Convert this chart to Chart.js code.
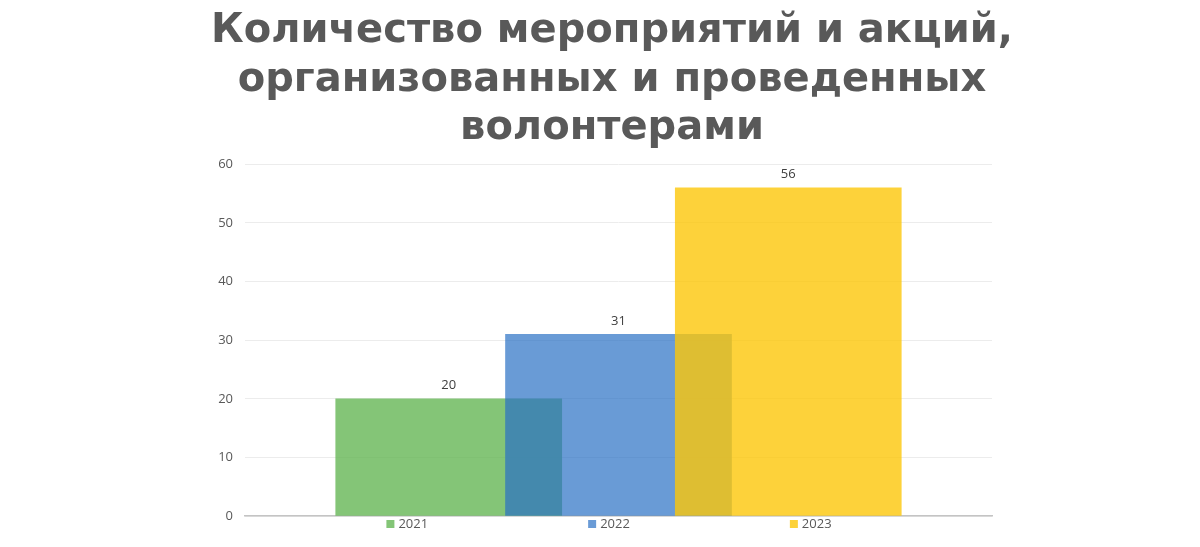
<!DOCTYPE html>
<html>
<head>
<meta charset="utf-8">
<script src="https://cdn.jsdelivr.net/npm/chart.js@4"></script>
<style>
  html, body { margin: 0; padding: 0; background: #ffffff; }
  #wrap { width: 1200px; height: 547px; position: relative; }
</style>
</head>
<body>
<div id="wrap"><canvas id="c" width="1200" height="547"></canvas></div>
<script>
// ---- data ----
const titleLines = ['Количество мероприятий и акций,', 'организованных и проведенных', 'волонтерами'];
const years = ['2021', '2022', '2023'];
const counts = [20, 31, 56];
const yTicks = [0, 10, 20, 30, 40, 50, 60];

// ---- styles ----
const fills = ['rgba(101,182,85,0.8)', 'rgba(42,112,196,0.7)', 'rgba(252,199,9,0.8)'];
const legendFills = ['#84c577', '#6a9bd6', '#fdd23a'];

const datasets = years.map((yr, i) => ({
  label: yr,
  data: [{ x: i + 1, y: counts[i] }],
  backgroundColor: fills[i],
  borderWidth: 0,
  order: years.length - i,
  grouped: false,
  barThickness: 226
}));

const valueLabels = {
  id: 'valueLabels',
  afterDatasetsDraw(chart) {
    const ctx = chart.ctx;
    ctx.save();
    ctx.font = '13px "Open Sans", sans-serif';
    ctx.fillStyle = '#404040';
    ctx.textAlign = 'center';
    ctx.textBaseline = 'bottom';
    chart.data.datasets.forEach((ds, i) => {
      const meta = chart.getDatasetMeta(i);
      meta.data.forEach((el, j) => {
        ctx.fillText(String(ds.data[j].y), el.x, el.y - 7);
      });
    });
    ctx.restore();
  }
};

const bottomLegend = {
  id: 'bottomLegend',
  afterDraw(chart) {
    const ctx = chart.ctx;
    ctx.save();
    ctx.font = '13px "Open Sans", sans-serif';
    const box = 8, gapBox = 4, gap = 160;
    const widths = years.map(t => box + gapBox + ctx.measureText(t).width);
    const total = widths.reduce((a, b) => a + b, 0) + gap * (years.length - 1);
    let x = chart.width / 2 + 9 - total / 2;
    const y = chart.chartArea.bottom + 2;
    ctx.textBaseline = 'middle';
    ctx.textAlign = 'left';
    years.forEach((t, i) => {
      ctx.fillStyle = legendFills[i];
      ctx.fillRect(x, y + 2, box, box);
      ctx.fillStyle = '#595959';
      ctx.fillText(t, x + box + gapBox, y + 6);
      x += widths[i] + gap;
    });
    ctx.restore();
  }
};

new Chart(document.getElementById('c'), {
  type: 'bar',
  data: { datasets },
  plugins: [valueLabels, bottomLegend],
  options: {
    responsive: false,
    animation: false,
    devicePixelRatio: 1,
    layout: { padding: { left: 24, right: 0, top: 2, bottom: 23 } },
    plugins: {
      legend: { display: false },
      tooltip: { enabled: false },
      title: {
        display: true,
        text: titleLines,
        color: '#595959',
        font: { family: '"DejaVu Sans", Verdana, sans-serif', size: 40, weight: 'bold', lineHeight: 1.22 },
        padding: { top: 5, bottom: 11 }
      }
    },
    scales: {
      x: {
        type: 'linear',
        offset: false,
        min: -0.2,
        max: 4.2,
        ticks: { display: false },
        grid: { display: false },
        border: { display: true, color: '#c4c4c4', width: 1.5 }
      },
      y: {
        min: 0,
        max: 60,
        afterBuildTicks(scale) { scale.ticks = yTicks.map(v => ({ value: v })); },
        afterFit(scale) { scale.width = 221; },
        ticks: { color: '#595959', font: { family: '"Open Sans", sans-serif', size: 13 }, padding: 12 },
        grid: { color: '#ececec', drawTicks: false },
        border: { display: false }
      },
      yRight: {
        position: 'right',
        display: true,
        afterFit(scale) { scale.width = 208; },
        ticks: { display: false },
        grid: { display: false },
        border: { display: false }
      }
    }
  }
});
</script>
</body>
</html>
